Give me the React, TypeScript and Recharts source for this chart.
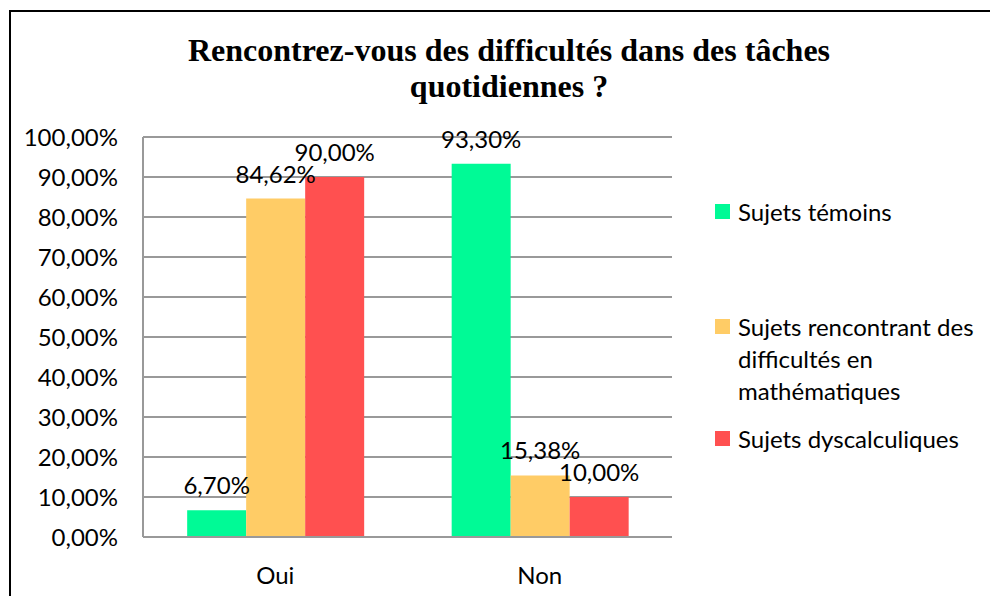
import React from "react";
import { BarChart, Bar, XAxis, YAxis, CartesianGrid, Legend, LabelList } from "recharts";

const categories = ["Oui", "Non"];
const temoins = [6.7, 93.3];
const difficultes = [84.62, 15.38];
const dyscalculiques = [90.0, 10.0];
const yTicks = [0, 10, 20, 30, 40, 50, 60, 70, 80, 90, 100];

const SERIES = [
  { key: "temoins", label: "Sujets témoins", color: "#00FA96", gapBefore: 0 },
  {
    key: "difficultes",
    label: "Sujets rencontrant des difficultés en mathématiques",
    color: "#FFCC66",
    gapBefore: 83,
  },
  { key: "dyscalculiques", label: "Sujets dyscalculiques", color: "#FF5050", gapBefore: 16 },
];

const rows = categories.map((c, i) => ({
  cat: c,
  temoins: temoins[i],
  difficultes: difficultes[i],
  dyscalculiques: dyscalculiques[i],
}));

const FONT = "Lato, 'Open Sans', sans-serif";
const FS = 24;
const GRID = "#999999";
const pct = (v: number) => v.toFixed(2).replace(".", ",") + "%";

function ChartLegend() {
  return (
    <div style={{ fontFamily: FONT, fontSize: FS, color: "#000", lineHeight: "32px" }}>
      {SERIES.map((s) => (
        <div key={s.key} style={{ display: "flex", marginTop: s.gapBefore, width: 270 }}>
          <span
            style={{
              display: "inline-block",
              width: 15,
              height: 15,
              background: s.color,
              marginTop: 8,
              marginRight: 8,
              flexShrink: 0,
            }}
          />
          <span style={{ width: 250 }}>{s.label}</span>
        </div>
      ))}
    </div>
  );
}

export default function App() {
  return (
    <div style={{ position: "relative", width: 990, height: 588, overflow: "hidden" }}>
      <div
        style={{
          position: "absolute",
          left: 1,
          top: 2,
          width: 1100,
          height: 700,
          border: "2px solid #000",
          boxSizing: "border-box",
        }}
      />
      <div
        style={{
          position: "absolute",
          left: 0,
          top: 24,
          width: 1002,
          textAlign: "center",
          fontFamily: "'Liberation Serif', 'Times New Roman', serif",
          fontWeight: "bold",
          fontSize: 32,
          lineHeight: "36px",
          color: "#000",
        }}
      >
        Rencontrez-vous des difficultés dans des tâches
        <br />
        quotidiennes ?
      </div>
      <div style={{ position: "absolute", left: 0, top: 0 }}>
        <BarChart
          width={990}
          height={588}
          data={rows}
          margin={{ top: 129, right: 326, bottom: 0, left: 0 }}
          barCategoryGap="16.7%"
          barGap={0}
        >
          <CartesianGrid vertical={false} stroke={GRID} strokeWidth={2} />
          <XAxis
            dataKey="cat"
            height={59}
            axisLine={{ stroke: GRID, strokeWidth: 2 }}
            tickLine={false}
            tickSize={0}
            tickMargin={30}
            tick={{ fill: "#000", fontSize: FS, fontFamily: FONT }}
          />
          <YAxis
            width={135}
            domain={[0, 100]}
            ticks={yTicks}
            interval={0}
            axisLine={{ stroke: GRID, strokeWidth: 2 }}
            tickLine={false}
            tickSize={0}
            tickMargin={25}
            tickFormatter={(v: number) => pct(v)}
            tick={{ fill: "#000", fontSize: FS, fontFamily: FONT }}
          />
          <Legend
            layout="vertical"
            verticalAlign="middle"
            align="center"
            content={() => <ChartLegend />}
            wrapperStyle={{ position: "absolute", left: 707, top: 188, width: 280 }}
          />
          {SERIES.map((s) => (
            <Bar key={s.key} dataKey={s.key} fill={s.color} isAnimationActive={false}>
              <LabelList
                dataKey={s.key}
                position="top"
                offset={16}
                formatter={(v: number) => pct(v)}
                style={{ fill: "#000", fontSize: FS, fontFamily: FONT }}
              />
            </Bar>
          ))}
        </BarChart>
      </div>
    </div>
  );
}
